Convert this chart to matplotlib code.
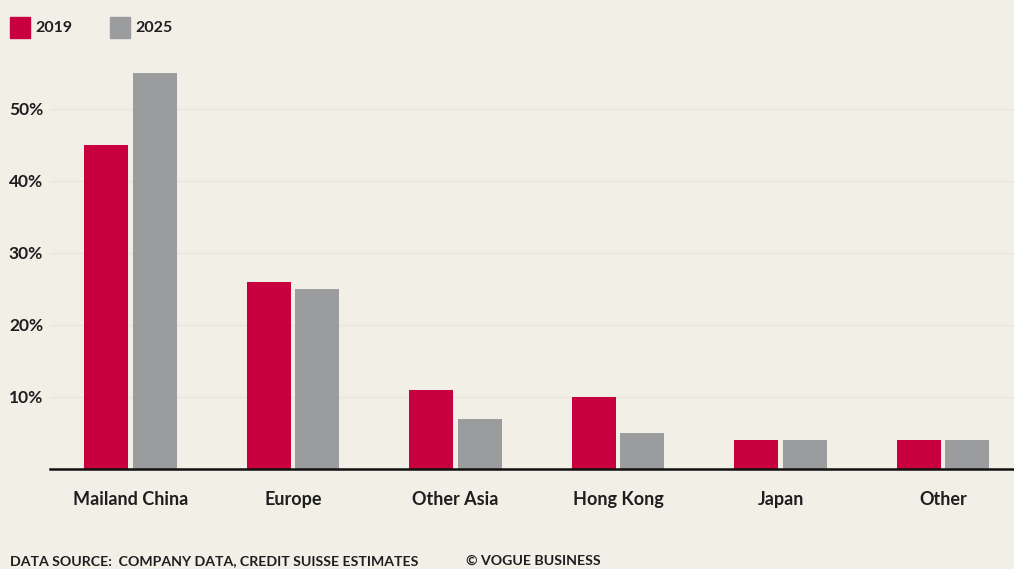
import matplotlib
matplotlib.use("Agg")
import matplotlib.pyplot as plt
import numpy as np
from matplotlib.patches import Rectangle

categories = ["Mailand China", "Europe", "Other Asia", "Hong Kong", "Japan", "Other"]
values_2019 = [45, 26, 11, 10, 4, 4]
values_2025 = [55, 25, 7, 5, 4, 4]
series_labels = ["2019", "2025"]
yticks = [10, 20, 30, 40, 50]
ytick_labels = ["10%", "20%", "30%", "40%", "50%"]

bg = "#F2EFE7"
red = "#C8003F"
gray = "#9A9C9E"
txt = "#1E1E1E"
plt.rcParams['font.family'] = ['Lato', 'DejaVu Sans']

W, H = 1014, 569
fig = plt.figure(figsize=(W / 100, H / 100), dpi=100, facecolor=bg)
ax = fig.add_axes([50 / W, 1 - 469 / H, (W - 50) / W, (469 - 60) / H])
ax.set_facecolor(bg)

x = np.arange(len(categories))
bw = 0.27
gap = 0.015
ax.bar(x - bw / 2 - gap, values_2019, bw, color=red, zorder=3)
ax.bar(x + bw / 2 + gap, values_2025, bw, color=gray, zorder=3)

ax.set_xlim(-0.495, 5.437)
ax.set_ylim(0, 56.8)
ax.set_yticks(yticks)
ax.set_yticklabels(ytick_labels, fontsize=12.5, color=txt, fontweight='bold')
ax.set_xticks(x)
ax.set_xticklabels(categories, fontsize=13, color=txt, fontweight='bold')
ax.tick_params(axis='both', length=0)
ax.tick_params(axis='x', pad=16)
ax.tick_params(axis='y', pad=5)
ax.grid(axis='y', color="#E9E5DB", linewidth=1, zorder=0)
for s in ["top", "right", "left"]:
    ax.spines[s].set_visible(False)
ax.spines["bottom"].set_color("#111111")
ax.spines["bottom"].set_linewidth(1.8)
ax.spines["bottom"].set_zorder(4)

# legend
for i, (lab, col) in enumerate(zip(series_labels, [red, gray])):
    x0 = 10 + i * 100
    fig.patches.append(Rectangle((x0 / W, 1 - 38 / H), 20 / W, 21 / H,
                                 transform=fig.transFigure, color=col, figure=fig))
    fig.text((x0 + 25) / W, 1 - 28 / H, lab, fontsize=11.5, va='center', ha='left',
             color=txt, fontweight='bold')

fig.text(10 / W, 1 - 561 / H, "DATA SOURCE:  COMPANY DATA, CREDIT SUISSE ESTIMATES",
         fontsize=10.2, va='center', ha='left', color=txt, fontweight='bold')
fig.text(466 / W, 1 - 561 / H, "© VOGUE BUSINESS",
         fontsize=10.2, va='center', ha='left', color=txt, fontweight='bold')

fig.savefig("out.png", dpi=100, facecolor=bg)
